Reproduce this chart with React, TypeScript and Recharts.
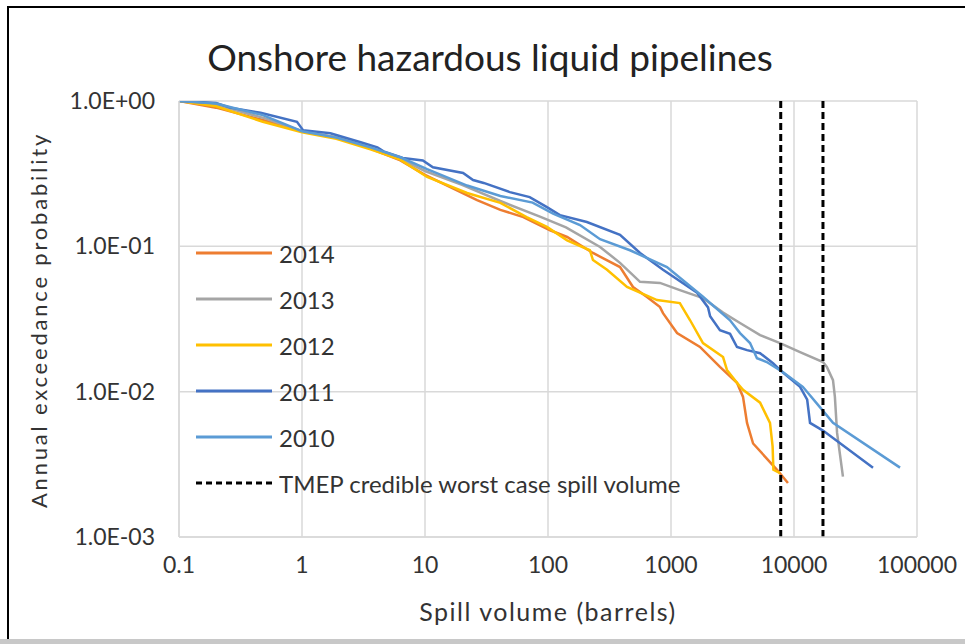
import React from "react";
import { LineChart, Line, XAxis, YAxis, CartesianGrid, ReferenceLine } from "recharts";

const xTicks = [0.1, 1, 10, 100, 1000, 10000, 100000];
const xTickLabels = ["0.1", "1", "10", "100", "1000", "10000", "100000"];
const yTicks = [0.001, 0.01, 0.1, 1];
const yTickLabels = ["1.0E-03", "1.0E-02", "1.0E-01", "1.0E+00"];

// TMEP credible worst case spill volumes (barrels)
const tmepVolumes = [7800, 17200];

const s2014 = [
  { x: 0.1, y: 1 }, { x: 0.2, y: 0.9 }, { x: 0.48, y: 0.74 }, { x: 1, y: 0.62 }, { x: 1.9, y: 0.56 },
  { x: 3.6, y: 0.47 }, { x: 6.3, y: 0.39 }, { x: 10, y: 0.31 }, { x: 26.5, y: 0.208 }, { x: 41, y: 0.178 },
  { x: 63, y: 0.159 }, { x: 104, y: 0.129 }, { x: 143, y: 0.116 }, { x: 232, y: 0.09 }, { x: 385, y: 0.072 },
  { x: 491, y: 0.0525 }, { x: 638, y: 0.0448 }, { x: 814, y: 0.0382 }, { x: 861, y: 0.0347 }, { x: 1120, y: 0.0253 },
  { x: 1720, y: 0.0203 }, { x: 2500, y: 0.0148 }, { x: 3440, y: 0.0115 }, { x: 3850, y: 0.0092 }, { x: 4150, y: 0.0061 },
  { x: 4650, y: 0.0044 }, { x: 7280, y: 0.0029 }, { x: 8930, y: 0.00235 },
];

const s2013 = [
  { x: 0.1, y: 1 }, { x: 0.21, y: 0.93 }, { x: 0.5, y: 0.76 }, { x: 1, y: 0.62 }, { x: 2, y: 0.56 },
  { x: 3.6, y: 0.48 }, { x: 6.3, y: 0.4 }, { x: 10, y: 0.33 }, { x: 20, y: 0.265 }, { x: 41, y: 0.205 },
  { x: 86, y: 0.16 }, { x: 140, y: 0.135 }, { x: 265, y: 0.099 }, { x: 385, y: 0.077 }, { x: 560, y: 0.057 },
  { x: 814, y: 0.056 }, { x: 1180, y: 0.05 }, { x: 1820, y: 0.044 }, { x: 2650, y: 0.035 }, { x: 3640, y: 0.0297 },
  { x: 5300, y: 0.0245 }, { x: 7700, y: 0.0216 }, { x: 11200, y: 0.0187 }, { x: 17200, y: 0.016 }, { x: 18500, y: 0.0148 },
  { x: 20750, y: 0.012 }, { x: 21500, y: 0.0092 }, { x: 22400, y: 0.0052 }, { x: 25000, y: 0.0026 },
];

const s2012 = [
  { x: 0.1, y: 1 }, { x: 0.2, y: 0.92 }, { x: 0.48, y: 0.72 }, { x: 1, y: 0.61 }, { x: 1.9, y: 0.55 },
  { x: 3.6, y: 0.465 }, { x: 6.3, y: 0.395 }, { x: 10.4, y: 0.3 }, { x: 22, y: 0.233 }, { x: 41, y: 0.199 },
  { x: 67, y: 0.159 }, { x: 98, y: 0.136 }, { x: 143, y: 0.11 }, { x: 219, y: 0.094 }, { x: 232, y: 0.0805 },
  { x: 302, y: 0.069 }, { x: 439, y: 0.0525 }, { x: 770, y: 0.0427 }, { x: 1180, y: 0.0407 }, { x: 1430, y: 0.031 },
  { x: 1820, y: 0.0216 }, { x: 2650, y: 0.0173 }, { x: 2850, y: 0.0141 }, { x: 3440, y: 0.0115 }, { x: 3850, y: 0.0103 },
  { x: 5300, y: 0.0084 }, { x: 6380, y: 0.0061 }, { x: 6700, y: 0.0042 }, { x: 6800, y: 0.0029 }, { x: 7700, y: 0.00275 },
];

const s2011 = [
  { x: 0.1, y: 1 }, { x: 0.2, y: 0.97 }, { x: 0.26, y: 0.9 }, { x: 0.46, y: 0.83 }, { x: 0.91, y: 0.72 },
  { x: 1.02, y: 0.63 }, { x: 1.7, y: 0.6 }, { x: 3, y: 0.52 }, { x: 4.1, y: 0.48 }, { x: 4.6, y: 0.45 },
  { x: 6.6, y: 0.405 }, { x: 9.6, y: 0.39 }, { x: 11.6, y: 0.35 }, { x: 20.4, y: 0.32 }, { x: 24.6, y: 0.286 },
  { x: 30, y: 0.273 }, { x: 49, y: 0.236 }, { x: 71, y: 0.218 }, { x: 98, y: 0.186 }, { x: 125, y: 0.164 },
  { x: 207, y: 0.147 }, { x: 385, y: 0.12 }, { x: 560, y: 0.09 }, { x: 861, y: 0.069 }, { x: 1630, y: 0.048 },
  { x: 2000, y: 0.038 }, { x: 2080, y: 0.033 }, { x: 2500, y: 0.0265 }, { x: 3020, y: 0.025 }, { x: 3440, y: 0.0203 },
  { x: 4150, y: 0.0193 }, { x: 5300, y: 0.0184 }, { x: 6750, y: 0.0157 }, { x: 7700, y: 0.0141 }, { x: 11200, y: 0.0108 },
  { x: 12800, y: 0.0088 }, { x: 13500, y: 0.0061 }, { x: 17200, y: 0.0054 }, { x: 43900, y: 0.003 },
];

const s2010 = [
  { x: 0.1, y: 1 }, { x: 0.2, y: 0.96 }, { x: 0.48, y: 0.8 }, { x: 1, y: 0.62 }, { x: 1.9, y: 0.56 },
  { x: 3.6, y: 0.48 }, { x: 6.3, y: 0.41 }, { x: 10.4, y: 0.34 }, { x: 22, y: 0.262 }, { x: 41, y: 0.222 },
  { x: 75, y: 0.2 }, { x: 110, y: 0.168 }, { x: 182, y: 0.14 }, { x: 265, y: 0.112 }, { x: 464, y: 0.094 },
  { x: 927, y: 0.072 }, { x: 1820, y: 0.045 }, { x: 3020, y: 0.031 }, { x: 3640, y: 0.0253 }, { x: 4390, y: 0.0216 },
  { x: 5000, y: 0.017 }, { x: 6000, y: 0.016 }, { x: 8150, y: 0.0136 }, { x: 11800, y: 0.0108 }, { x: 16300, y: 0.0078 },
  { x: 20750, y: 0.0061 }, { x: 72800, y: 0.003 },
];

const series = [
  { name: "2014", data: s2014, color: "#ED7D31" },
  { name: "2013", data: s2013, color: "#A5A5A5" },
  { name: "2012", data: s2012, color: "#FFC000" },
  { name: "2011", data: s2011, color: "#4472C4" },
  { name: "2010", data: s2010, color: "#5B9BD5" },
];

const FONT = "Lato, 'Open Sans', sans-serif";

function LegendBox() {
  const rows = [
    ...series.map((s) => ({ label: s.name, color: s.color, dash: undefined as string | undefined })),
    { label: "TMEP credible worst case spill volume", color: "#000", dash: "6 4" },
  ];
  return (
    <div style={{ position: "absolute", left: 196, top: 230, fontFamily: FONT, color: "#333" }}>
      {rows.map((r) => (
        <div key={r.label} style={{ display: "flex", alignItems: "center", height: 46 }}>
          <svg width={78} height={10}>
            <line x1={0} y1={5} x2={76} y2={5} stroke={r.color} strokeWidth={3} strokeDasharray={r.dash} />
          </svg>
          <span style={{ fontSize: 24, marginLeft: 5 }}>{r.label}</span>
        </div>
      ))}
    </div>
  );
}

export default function App() {
  return (
    <div style={{ position: "fixed", left: 0, top: 0, width: 965, height: 644, background: "#fff", overflow: "hidden" }}>
      <div style={{ position: "absolute", left: 7, top: 6, width: 958, height: 632, borderLeft: "2px solid #000", borderTop: "2px solid #000" }} />
      <div style={{ position: "absolute", left: 0, top: 639, width: 965, height: 5, background: "#c8c8c8" }} />
      <div style={{ position: "absolute", left: 0, top: 0 }}>
        <LineChart width={965} height={644} margin={{ top: 101, right: 48, bottom: 67, left: 79 }}>
          <CartesianGrid stroke="#d9d9d9" strokeWidth={1.5} />
          <XAxis
            dataKey="x"
            type="number"
            scale="log"
            domain={[0.1, 100000]}
            ticks={xTicks}
            tickFormatter={(v: number) => xTickLabels[xTicks.indexOf(v)] ?? String(v)}
            allowDataOverflow
            height={40}
            axisLine={{ stroke: "#d9d9d9", strokeWidth: 1.5 }}
            tickLine={false}
            tickSize={0}
            tickMargin={20}
            tick={{ fill: "#333", fontSize: 23, fontFamily: FONT }}
          />
          <YAxis
            dataKey="y"
            type="number"
            scale="log"
            domain={[0.001, 1]}
            ticks={yTicks}
            tickFormatter={(v: number) => yTickLabels[yTicks.indexOf(v)] ?? String(v)}
            allowDataOverflow
            width={100}
            axisLine={{ stroke: "#d9d9d9", strokeWidth: 1.5 }}
            tickLine={false}
            tickSize={0}
            tickMargin={24}
            tick={{ fill: "#333", fontSize: 23, fontFamily: FONT }}
          />
          {series.map((s) => (
            <Line
              key={s.name}
              data={s.data}
              dataKey="y"
              name={s.name}
              stroke={s.color}
              strokeWidth={2.5}
              dot={false}
              isAnimationActive={false}
            />
          ))}
          {tmepVolumes.map((v) => (
            <ReferenceLine key={v} x={v} stroke="#000" strokeWidth={3} strokeDasharray="7 4" />
          ))}
        </LineChart>
      </div>
      <LegendBox />
      <div style={{ position: "absolute", left: 0, width: 980, top: 34, textAlign: "center", fontFamily: FONT, fontSize: 37, color: "#222" }}>
        Onshore hazardous liquid pipelines
      </div>
      <div style={{ position: "absolute", left: 38, top: 320, transform: "translate(-50%, -50%) rotate(-90deg)", whiteSpace: "nowrap", fontFamily: FONT, fontSize: 22, letterSpacing: 2.8, color: "#333" }}>
        Annual exceedance probability
      </div>
      <div style={{ position: "absolute", left: 0, width: 1096, top: 596, textAlign: "center", fontFamily: FONT, fontSize: 25, letterSpacing: 1.5, color: "#333" }}>
        Spill volume (barrels)
      </div>
    </div>
  );
}
